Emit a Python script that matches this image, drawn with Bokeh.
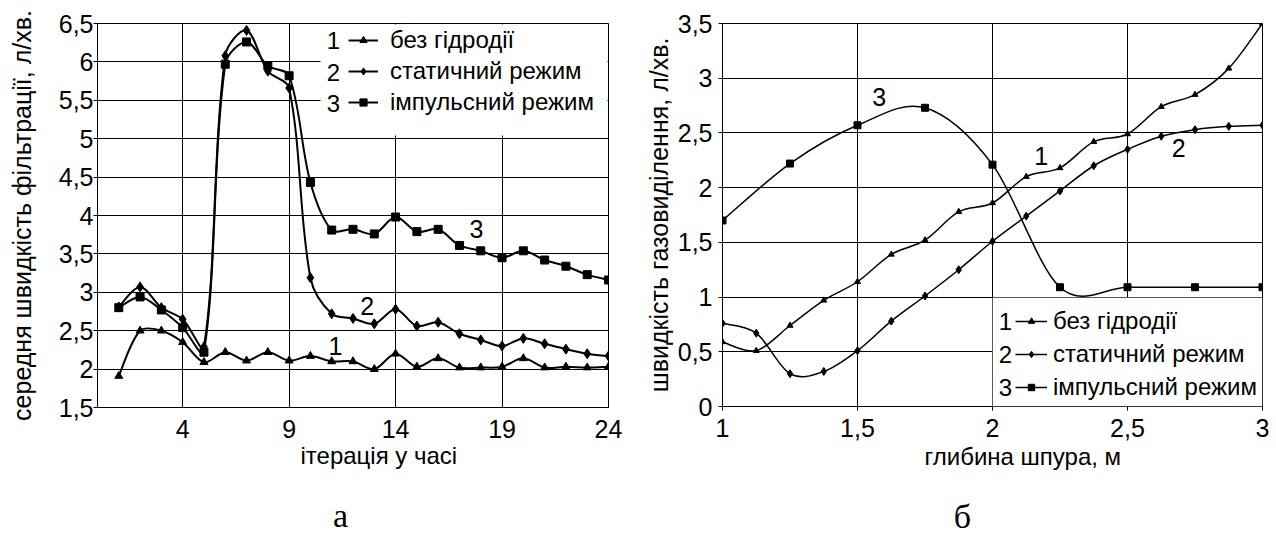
import numpy as np
from bokeh.plotting import figure
from bokeh.models import (Range1d, FixedTicker, CustomJSTickFormatter, Label, Legend,
                          LegendItem, BoxAnnotation, ColumnDataSource, Title)
from bokeh.layouts import row, column
from bokeh.embed import file_html
from bokeh.resources import INLINE

# ---------------- panel "а" data ----------------
iter_x = list(range(1, 25))
a_s1 = [1.91, 2.50, 2.50, 2.35, 2.09, 2.22, 2.11, 2.22, 2.11, 2.17, 2.10, 2.10,
        2.00, 2.20, 2.03, 2.14, 2.02, 2.02, 2.03, 2.14, 2.02, 2.03, 2.02, 2.03]
a_s2 = [2.81, 3.07, 2.80, 2.65, 2.29, 6.08, 6.41, 5.88, 5.66, 3.19, 2.72, 2.66,
        2.59, 2.78, 2.56, 2.61, 2.46, 2.38, 2.30, 2.40, 2.33, 2.26, 2.20, 2.17]
a_s3 = [2.80, 2.94, 2.77, 2.54, 2.22, 5.97, 6.26, 5.95, 5.82, 4.43, 3.81, 3.82,
        3.76, 3.98, 3.79, 3.82, 3.61, 3.54, 3.45, 3.54, 3.42, 3.34, 3.23, 3.16]
a_xticks = [4, 9, 14, 19, 24]
a_xlabels = ["4", "9", "14", "19", "24"]
a_yticks = [1.5, 2, 2.5, 3, 3.5, 4, 4.5, 5, 5.5, 6, 6.5]
a_ylabels = ["1,5", "2", "2,5", "3", "3,5", "4", "4,5", "5", "5,5", "6", "6,5"]
a_curve_num = ["1", "2", "3"]
a_curve_num_x = [11.18, 12.67, 17.8]
a_curve_num_y = [2.30, 2.82, 3.82]

# ---------------- panel "б" data ----------------
depth_x = [1.0, 1.125, 1.25, 1.375, 1.5, 1.625, 1.75, 1.875, 2.0, 2.125, 2.25,
           2.375, 2.5, 2.625, 2.75, 2.875, 3.0]
b_s1 = [0.59, 0.51, 0.74, 0.97, 1.14, 1.39, 1.52, 1.78, 1.86, 2.10, 2.18, 2.42,
        2.49, 2.74, 2.85, 3.09, 3.50]
b_s2 = [0.76, 0.67, 0.30, 0.32, 0.51, 0.78, 1.01, 1.25, 1.51, 1.74, 1.97, 2.20,
        2.35, 2.47, 2.53, 2.56, 2.57]
depth_x3 = [1.0, 1.25, 1.5, 1.75, 2.0, 2.25, 2.5, 2.75, 3.0]
b_s3 = [1.70, 2.22, 2.57, 2.73, 2.21, 1.09, 1.09, 1.09, 1.09]
b_xticks = [1, 1.5, 2, 2.5, 3]
b_xlabels = ["1", "1,5", "2", "2,5", "3"]
b_yticks = [0, 0.5, 1, 1.5, 2, 2.5, 3, 3.5]
b_ylabels = ["0", "0,5", "1", "1,5", "2", "2,5", "3", "3,5"]
b_curve_num = ["3", "1", "2"]
b_curve_num_x = [1.58, 2.18, 2.69]
b_curve_num_y = [2.83, 2.29, 2.36]

series_names = ["без гідродії", "статичний режим", "імпульсний режим"]
series_nums = ["1", "2", "3"]
panel_letters = ["а", "б"]
x_titles = ["ітерація у часі", "глибина шпура, м"]
y_titles = ["середня швидкість фільтрації, л/хв.", "швидкість газовиділення, л/хв."]

FONT = "Liberation Sans"
SERIF = "Liberation Serif"
INK = "#000000"


def smooth_source(x, y, px=None):
    """Bezier segments through the data points (Catmull-Rom style smoothing).
    If px=(pixels per x unit, pixels per y unit) is given, the control arms are
    scaled by the on-screen length of each neighbouring segment."""
    x = np.asarray(x, float)
    y = np.asarray(y, float)
    n = len(x)
    xp = np.concatenate([[x[0]], x, [x[-1]]])
    yp = np.concatenate([[y[0]], y, [y[-1]]])
    tx = xp[2:] - xp[:-2]
    ty = yp[2:] - yp[:-2]
    if px is None:
        a_out = np.full(n, 1 / 6)
        a_in = np.full(n, 1 / 6)
    else:
        kx, ky = px
        seg = np.hypot(np.diff(x) * kx, np.diff(y) * ky)
        d_prev = np.concatenate([[seg[0]], seg])
        d_next = np.concatenate([seg, [seg[-1]]])
        tot = d_prev + d_next
        a_out = d_next / tot / 3
        a_in = d_prev / tot / 3
    return ColumnDataSource(dict(
        x0=x[:-1], y0=y[:-1], x1=x[1:], y1=y[1:],
        cx0=x[:-1] + tx[:-1] * a_out[:-1], cy0=y[:-1] + ty[:-1] * a_out[:-1],
        cx1=x[1:] - tx[1:] * a_in[1:], cy1=y[1:] - ty[1:] * a_in[1:],
    ))


def fmt(tvals, tlabels):
    return CustomJSTickFormatter(args=dict(tvals=tvals, tlabels=tlabels), code="""
        for (let i = 0; i < tvals.length; i++) {
            if (Math.abs(tvals[i] - tick) < 1e-9) { return tlabels[i]; }
        }
        return "";
    """)


def style(p, xt, xl, yt, yl, x_in, x_out, x_standoff, y_standoff_title):
    p.background_fill_color = "white"
    p.border_fill_color = "white"
    p.outline_line_color = INK
    p.outline_line_width = 1
    for ax in (p.xaxis[0], p.yaxis[0]):
        ax.axis_line_color = INK
        ax.major_tick_line_color = INK
        ax.minor_tick_line_color = None
        ax.major_label_text_font = FONT
        ax.major_label_text_font_size = "25px"
        ax.major_label_text_color = INK
        ax.axis_label_text_font = FONT
        ax.axis_label_text_font_style = "normal"
        ax.axis_label_text_font_size = "25px"
        ax.axis_label_text_color = INK
    p.xaxis.ticker = FixedTicker(ticks=xt)
    p.xaxis.formatter = fmt(xt, xl)
    p.xaxis.major_tick_in = x_in
    p.xaxis.major_tick_out = x_out
    p.xaxis.major_label_standoff = x_standoff
    p.yaxis.ticker = FixedTicker(ticks=yt)
    p.yaxis.formatter = fmt(yt, yl)
    p.yaxis.major_tick_in = 0
    p.yaxis.major_tick_out = 4
    p.yaxis.axis_label_standoff = y_standoff_title
    p.xgrid.grid_line_color = INK
    p.ygrid.grid_line_color = INK
    p.xgrid.grid_line_width = 1
    p.ygrid.grid_line_width = 1


def draw_series(p, xs, ys, marker, msize, lw, px):
    b = p.bezier(x0="x0", y0="y0", x1="x1", y1="y1", cx0="cx0", cy0="cy0",
                 cx1="cx1", cy1="cy1", source=smooth_source(xs, ys, px),
                 line_color=INK, line_width=lw)
    s = p.scatter(xs, ys, marker=marker, size=msize, fill_color=INK, line_color=INK)
    return [b, s]


def curve_numbers(p, xs, ys, texts):
    for xx, yy, tt in zip(xs, ys, texts):
        p.add_layout(Label(x=xx, y=yy, text=tt, text_font=FONT, text_font_size="25px",
                           text_align="center", text_baseline="middle", text_color=INK))


def screen_text(p, x, y, text, font=FONT, size="24px", align="left"):
    p.add_layout(Label(x=x, y=y, x_units="screen", y_units="screen", text=text,
                       text_font=font, text_font_size=size, text_align=align,
                       text_baseline="middle", text_color=INK))


def x_title(p, text, offset, standoff):
    p.add_layout(Title(text=text, align="left", offset=offset, vertical_align="top",
                       standoff=standoff, text_font=FONT, text_font_size="24px",
                       text_font_style="normal", text_color=INK), "below")


def letter_fig(width, height, x, y, text):
    f = figure(frame_width=width, frame_height=height, min_border=0,
               x_range=Range1d(0, 1), y_range=Range1d(0, 1),
               x_axis_location=None, y_axis_location=None,
               toolbar_location=None, output_backend="svg")
    f.grid.visible = False
    f.outline_line_color = None
    f.background_fill_color = "white"
    f.border_fill_color = "white"
    screen_text(f, x, y, text, font=SERIF, size="34px", align="center")
    return f


# ================= panel а =================
A_FW, A_FH = 511, 384
p1 = figure(frame_width=A_FW, frame_height=A_FH, min_border_left=97, min_border_right=32,
            min_border_top=23, min_border_bottom=80,
            x_range=Range1d(0, 24), y_range=Range1d(1.5, 6.5),
            toolbar_location=None, output_backend="svg")
style(p1, a_xticks, a_xlabels, a_yticks, a_ylabels, 0, 0, 12, 20)
p1.yaxis.major_label_standoff = 0
p1.yaxis.axis_label = y_titles[0]

a_px = (A_FW / 24, A_FH / 5)
r1 = draw_series(p1, iter_x, a_s1, "triangle", 8, 2, a_px)
r2 = draw_series(p1, iter_x, a_s2, "diamond", 10, 2, a_px)
r3 = draw_series(p1, iter_x, a_s3, "square", 8, 2, a_px)

p1.add_layout(BoxAnnotation(left=223, right=510, bottom=272, top=383,
                            left_units="screen", right_units="screen",
                            bottom_units="screen", top_units="screen",
                            fill_color="white", fill_alpha=1, line_color=None))
leg1 = Legend(items=[LegendItem(label=series_names[0], renderers=r1),
                     LegendItem(label=series_names[1], renderers=r2),
                     LegendItem(label=series_names[2], renderers=r3)],
              location=(251, 290), orientation="vertical", padding=0, spacing=0,
              margin=0, glyph_width=30, glyph_height=18, label_height=31,
              label_standoff=12, label_text_font=FONT, label_text_font_size="24px",
              label_text_color=INK, border_line_color=None, background_fill_alpha=0)
p1.add_layout(leg1)
for i, yy in enumerate([367, 335, 304]):
    screen_text(p1, 236, yy, series_nums[i], size="24px", align="center")
curve_numbers(p1, a_curve_num_x, a_curve_num_y, a_curve_num)
x_title(p1, x_titles[0], 203, 3)

# ================= panel б =================
p2 = figure(frame_width=540, frame_height=383, min_border_left=82, min_border_right=14,
            min_border_top=19, min_border_bottom=85,
            x_range=Range1d(1, 3), y_range=Range1d(0, 3.5),
            toolbar_location=None, output_backend="svg")
style(p2, b_xticks, b_xlabels, b_yticks, b_ylabels, 4, 4, 8, 2)
p2.yaxis.major_label_standoff = 6
p2.yaxis.axis_label = y_titles[1]

q1 = draw_series(p2, depth_x, b_s1, "triangle", 6, 1.5, None)
q2 = draw_series(p2, depth_x, b_s2, "diamond", 8, 1.5, None)
q3 = draw_series(p2, depth_x3, b_s3, "square", 7, 1.5, None)

p2.add_layout(BoxAnnotation(left=270, right=540, bottom=0, top=109,
                            left_units="screen", right_units="screen",
                            bottom_units="screen", top_units="screen",
                            fill_color="white", fill_alpha=1, line_color=INK, line_width=1))
leg2 = Legend(items=[LegendItem(label=series_names[0], renderers=q1),
                     LegendItem(label=series_names[1], renderers=q2),
                     LegendItem(label=series_names[2], renderers=q3)],
              location=(293, 3), orientation="vertical", padding=0, spacing=0,
              margin=0, glyph_width=32, glyph_height=16, label_height=33,
              label_standoff=6, label_text_font=FONT, label_text_font_size="24px",
              label_text_color=INK, border_line_color=None, background_fill_alpha=0)
p2.add_layout(leg2)
for i, yy in enumerate([85, 52, 19]):
    screen_text(p2, 283, yy, series_nums[i], size="24px", align="center")
curve_numbers(p2, b_curve_num_x, b_curve_num_y, b_curve_num)
x_title(p2, x_titles[1], 202, 6)

la = letter_fig(640, 51, 340, 23, panel_letters[0])
lb = letter_fig(636, 51, 322, 22, panel_letters[1])

layout = column(row(p1, p2, spacing=0), row(la, lb, spacing=0), spacing=0)
open("out.html", "w").write(file_html(layout, INLINE))
